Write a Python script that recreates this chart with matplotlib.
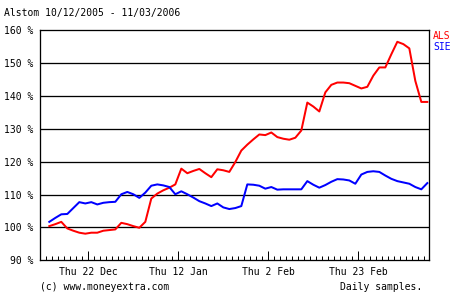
import numpy as np
import pandas as pd
import matplotlib
matplotlib.use("Agg")
import matplotlib.pyplot as plt

# daily samples, 13 Dec 2005 .. 10 Mar 2006, relative to 100 %
dates = pd.bdate_range("2005-12-13", "2006-03-10")
als = [100.4, 101.0, 101.7, 99.7, 99.0, 98.4, 98.1, 98.4, 98.4, 99.0,
       99.2, 99.4, 101.4, 101.0, 100.4, 99.9, 101.7, 108.8, 110.3, 111.3,
       112.1, 113.1, 117.9, 116.5, 117.2, 117.8, 116.5, 115.3, 117.7, 117.4,
       116.9, 119.9, 123.4, 125.2, 126.8, 128.3, 128.1, 128.9, 127.5, 127.0,
       126.7, 127.3, 129.5, 138.0, 136.8, 135.3, 141.1, 143.4, 144.1, 144.1,
       143.9, 143.1, 142.3, 142.8, 146.2, 148.7, 148.7, 152.7, 156.5, 155.8,
       154.5, 144.6, 138.2, 138.2]
sie = [101.7, 102.9, 104.0, 104.1, 105.9, 107.7, 107.3, 107.7, 107.0, 107.5,
       107.7, 107.8, 110.1, 110.8, 110.1, 109.0, 110.6, 112.7, 113.1, 112.8,
       112.3, 110.1, 111.0, 110.1, 109.1, 108.0, 107.3, 106.5, 107.3, 106.1,
       105.6, 105.9, 106.5, 113.1, 113.0, 112.7, 111.8, 112.3, 111.5, 111.6,
       111.6, 111.6, 111.6, 114.1, 113.0, 112.1, 112.9, 113.9, 114.7, 114.6,
       114.3, 113.3, 116.1, 116.9, 117.1, 116.9, 115.8, 114.8, 114.1, 113.7,
       113.3, 112.3, 111.6, 113.5]
major_dates = ["2005-12-22", "2006-01-12", "2006-02-02", "2006-02-23"]
major_labels = ["Thu 22 Dec", "Thu 12 Jan", "Thu 2 Feb", "Thu 23 Feb"]
yticks = [90, 100, 110, 120, 130, 140, 150, 160]

plt.rcParams['font.family'] = ['DejaVu Sans Mono']
fs = 7
px = 0.72  # one pixel in points

fig = plt.figure(figsize=(4.57, 3.0), dpi=100)
ax = fig.add_axes([40.3/457, 1-260.3/300, (429.3-40.3)/457, 230/300])

x = np.arange(len(dates))
ax.plot(x, als, color='#ff0000', lw=2*px, zorder=3)
ax.plot(x, sie, color='#0000ff', lw=2*px, zorder=3)

for v in yticks[1:-1]:
    ax.axhline(v, color='black', lw=1.3*px, zorder=2)

ax.set_xlim(-1.5, 63.33)
ax.set_ylim(90, 160)
ax.set_yticks(yticks)
ax.set_yticklabels(["%d %%" % v for v in yticks], fontsize=fs)
ax.tick_params(axis='y', length=0, pad=5)

major_pos = [dates.get_loc(pd.Timestamp(d)) - 0.5 for d in major_dates]
ax.set_xticks(major_pos)
ax.set_xticklabels(major_labels, fontsize=fs)
ax.set_xticks(x - 0.5, minor=True)
ax.tick_params(axis='x', which='major', direction='in', length=6.5, width=px, pad=5)
ax.tick_params(axis='x', which='minor', direction='in', length=3, width=px)

for s in ax.spines.values():
    s.set_linewidth(1.3*px)

fig.text(4/457, 1-13/300, "Alstom 10/12/2005 - 11/03/2006", fontsize=fs, va='center', ha='left')
fig.text(433/457, 1-36/300, "ALS", color='#ff0000', fontsize=fs, va='center', ha='left')
fig.text(433/457, 1-46.5/300, "SIE", color='#0000ff', fontsize=fs, va='center', ha='left')
fig.text(40/457, 1-287/300, "(c) www.moneyextra.com", fontsize=fs, va='center', ha='left')
fig.text(422/457, 1-287/300, "Daily samples.", fontsize=fs, va='center', ha='right')

fig.savefig("out.png", dpi=100)
